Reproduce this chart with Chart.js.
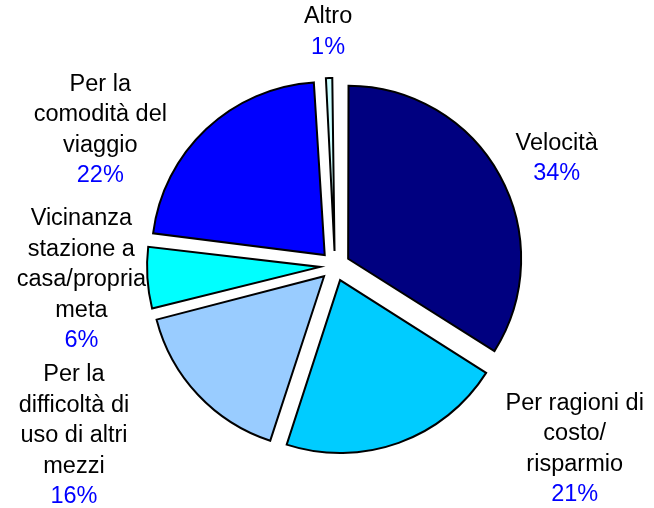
<!DOCTYPE html>
<html>
<head>
<meta charset="utf-8">
<script src="https://cdn.jsdelivr.net/npm/chart.js@4.4.1/dist/chart.umd.min.js"></script>
<style>
  html, body { margin: 0; padding: 0; background: #fff; }
  #wrap { width: 654px; height: 508px; }
</style>
</head>
<body>
<div id="wrap"><canvas id="pieChart" width="654" height="508"></canvas></div>
<script>
// data
const categories = [
    ['Velocità'],
    ['Per ragioni di', 'costo/', 'risparmio'],
    ['Per la', 'difficoltà di', 'uso di altri', 'mezzi'],
    ['Vicinanza', 'stazione a', 'casa/propria', 'meta'],
    ['Per la', 'comodità del', 'viaggio'],
    ['Altro']
];
const shares = [34, 21, 16, 6, 22, 1];
const sliceColors = ['#000080', '#00CCFF', '#99CCFF', '#00FFFF', '#0000FF', '#CCFFFF'];

// label placement, relative to the outer edge of each slice
const labelNudge = [[57, -17], [176, 6], [-124, 41], [-66, 2], [-106, 1], [-1, -46]];

const RADIUS = 173;
const EXPLODE = 15;   // pixels each slice is pulled out

// Chart.js grows narrow exploded slices; pull them back to one radius
const evenRadius = {
    id: 'evenRadius',
    beforeDatasetDraw(chart, args) {
        args.meta.data.forEach(arc => {
            const off = (arc.options.offset || 0) / 4;
            const fix = 1 - Math.sin(Math.min(Math.PI, arc.circumference));
            arc.outerRadius = RADIUS - off * fix;
        });
    }
};

const sliceLabels = {
    id: 'sliceLabels',
    afterDraw(chart) {
        const ctx = chart.ctx;
        const meta = chart.getDatasetMeta(0);
        const total = shares.reduce((a, b) => a + b, 0);
        const lineH = 30.5;
        ctx.save();
        ctx.font = '23.5px "Liberation Sans", Arial, sans-serif';
        ctx.textAlign = 'center';
        ctx.textBaseline = 'middle';
        meta.data.forEach((arc, i) => {
            const mid = (arc.startAngle + arc.endAngle) / 2;
            const r = RADIUS + EXPLODE;
            const cx = arc.x + Math.cos(mid) * r + labelNudge[i][0];
            const cy = arc.y + Math.sin(mid) * r + labelNudge[i][1];
            const lines = categories[i].slice();
            lines.push(Math.round(shares[i] / total * 100) + '%');
            const top = cy - (lines.length - 1) * lineH / 2;
            lines.forEach((txt, k) => {
                ctx.fillStyle = k === lines.length - 1 ? '#0000FF' : '#000000';
                ctx.fillText(txt, cx, top + k * lineH);
            });
        });
        ctx.restore();
    }
};

const ctx = document.getElementById('pieChart').getContext('2d');
new Chart(ctx, {
    type: 'pie',
    data: {
        labels: categories.map(c => c.join(' ')),
        datasets: [{
            data: shares,
            backgroundColor: sliceColors,
            borderColor: '#000000',
            borderWidth: 2,
            borderJoinStyle: 'miter',
            offset: EXPLODE * 4
        }]
    },
    options: {
        responsive: false,
        animation: false,
        radius: RADIUS,
        layout: { padding: { left: 16, right: 0, top: 24, bottom: 0 } },
        plugins: {
            legend: { display: false },
            tooltip: { enabled: false }
        }
    },
    plugins: [evenRadius, sliceLabels]
});
</script>
</body>
</html>
